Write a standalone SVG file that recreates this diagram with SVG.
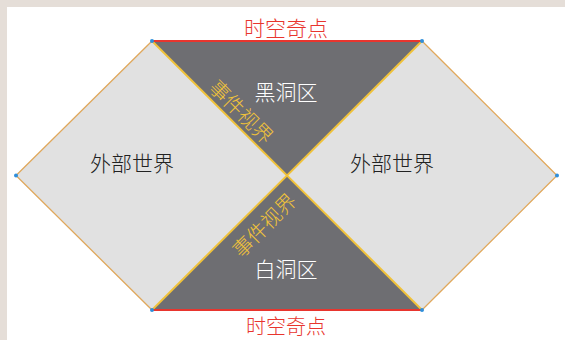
<svg xmlns="http://www.w3.org/2000/svg" width="565" height="340" viewBox="0 0 565 340">
  <style>
    .t { font-family: "Noto Sans CJK SC", "Noto Sans", sans-serif; font-weight: 300; text-anchor: middle; dominant-baseline: central; }
    .light { fill: #e1e1e1; }
    .dark { fill: #6e6e72; }
    .edge { stroke: #e0a85c; stroke-width: 1.3; fill: none; }
    .horizon { stroke: #f0c23a; stroke-width: 2; fill: none; }
    .sing { stroke: #e8352e; stroke-width: 2.2; fill: none; }
    .dot { fill: #2f8fdb; }
  </style>
  <rect x="0" y="0" width="565" height="340" fill="#ffffff"/>
  <rect x="0" y="0" width="565" height="7" fill="#e5ded8"/>
  <rect x="0" y="0" width="7" height="340" fill="#e5ded8"/>

  <g id="outer-left">
    <polygon class="light" points="16,175.5 152,41 287,175.5 152,310"/>
    <text class="t" x="132" y="162" font-size="21" fill="#222">外部世界</text>
  </g>
  <g id="outer-right">
    <polygon class="light" points="287,175.5 422,41 557,175.5 422,310"/>
    <text class="t" x="392" y="162" font-size="21" fill="#222">外部世界</text>
  </g>
  <g id="black-hole">
    <polygon class="dark" points="152,41 422,41 287,175.5"/>
    <text class="t" x="286" y="90.5" font-size="21" fill="#ffffff">黑洞区</text>
  </g>
  <g id="white-hole">
    <polygon class="dark" points="152,310 422,310 287,175.5"/>
    <text class="t" x="286" y="267.5" font-size="21" fill="#ffffff">白洞区</text>
  </g>

  <g id="connectors">
    <polyline class="edge" points="152,41 16,175.5 152,310"/>
    <polyline class="edge" points="422,41 557,175.5 422,310"/>
    <line class="horizon" x1="152" y1="41" x2="422" y2="310"/>
    <line class="horizon" x1="422" y1="41" x2="152" y2="310"/>
    <line class="sing" x1="152" y1="41" x2="422" y2="41"/>
    <line class="sing" x1="152" y1="310" x2="422" y2="310"/>
  </g>

  <g id="singularity-top">
    <text class="t" x="286" y="27" font-size="21" fill="#e8352e">时空奇点</text>
  </g>
  <g id="singularity-bottom">
    <text class="t" x="286" y="325.5" font-size="20" fill="#e8352e">时空奇点</text>
  </g>
  <g id="horizon-top-label">
    <text class="t" font-size="20" fill="#f0c23a" transform="translate(242,111) rotate(45)">事件视界</text>
  </g>
  <g id="horizon-bottom-label">
    <text class="t" font-size="20" fill="#f0c23a" transform="translate(263.5,224.5) rotate(-45)">事件视界</text>
  </g>

  <g id="vertices">
    <circle class="dot" cx="152" cy="41" r="2"/>
    <circle class="dot" cx="422" cy="41" r="2"/>
    <circle class="dot" cx="152" cy="310" r="2"/>
    <circle class="dot" cx="422" cy="310" r="2"/>
    <circle class="dot" cx="16" cy="175.5" r="2"/>
    <circle class="dot" cx="557" cy="175.5" r="2"/>
  </g>
</svg>
